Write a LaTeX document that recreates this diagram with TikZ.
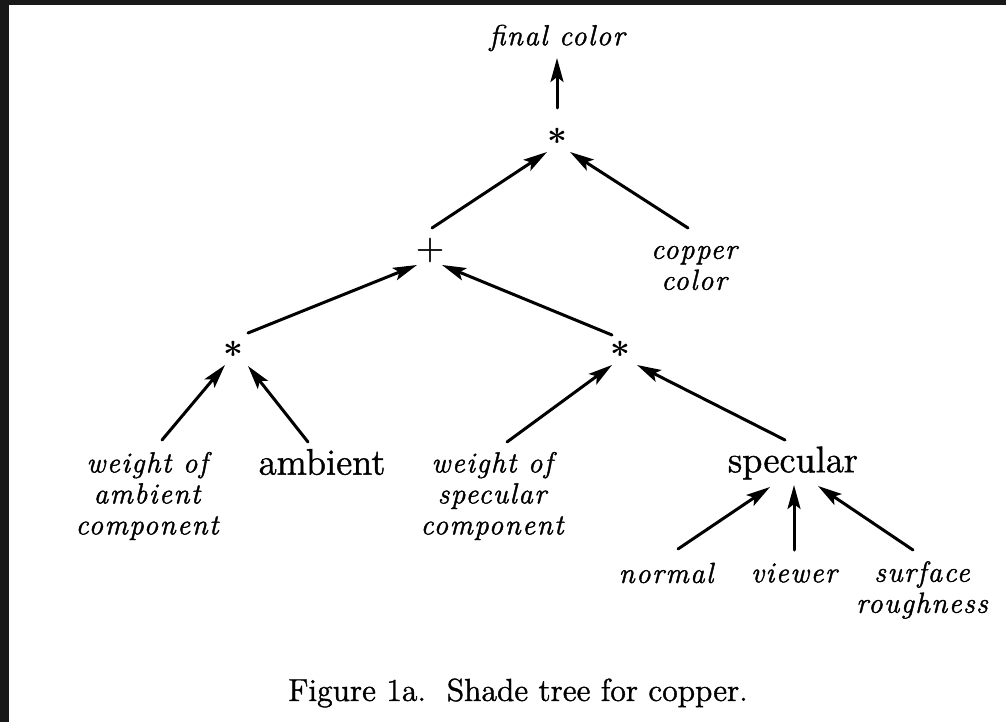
\documentclass[tikz,border=0pt]{standalone}
\usepackage{amsmath}
\usepackage{fontspec}
\usetikzlibrary{arrows.meta}

% spaced-out, slightly heavy italic for the leaf labels
\newfontfamily\lblfam{lmroman12-italic}[Extension=.otf, LetterSpace=5, FakeBold=1.4]
% heavy roman for the terms and the caption
\newfontfamily\romfam{lmroman12-regular}[Extension=.otf, FakeBold=1.2]

\newcommand{\lblfont}{\lblfam\fontsize{14.5}{15.5}\selectfont}
\newcommand{\opfont}{\romfam\fontsize{18.5}{22}\selectfont}
\newcommand{\capfont}{\romfam\fontsize{15.9}{19}\selectfont}
\newcommand{\starfont}{\fontsize{16}{16}\selectfont}

\definecolor{framedark}{HTML}{191919}

\begin{document}
\begin{tikzpicture}[
  x=0.5pt, y=-0.5pt,
  leaf/.style={inner sep=0pt, align=center, font=\lblfont},
  term/.style={inner sep=0pt, font=\opfont},
  oper/.style={inner sep=0pt, font=\starfont},
  edge/.style={line width=1.5pt, line cap=round,
    -{Stealth[length=12pt, width=6.5pt, inset=2.5pt]}},
]
\useasboundingbox (0,0) rectangle (1006,722);
% page background with the dark border strips on the left and top
\fill[framedark] (0,0) rectangle (1006,722);
\fill[white] (9,5) rectangle (1006,722);

% operators
\node[oper] (ts) at (557,136) {$\boldsymbol{\ast}$};
\node[term] (pl) at (430,250) {+};
\node[oper] (ls) at (233,349) {$\boldsymbol{\ast}$};
\node[oper] (rs) at (620,349) {$\boldsymbol{\ast}$};

% labels
\node[leaf] (fc) at (557,38) {final color};
\node[leaf] (cc) at (694,268) {copper\\color};
\node[leaf] (wa) at (147,496) {weight of\\ambient\\component};
\node[term] (am) at (322,462) {ambient};
\node[leaf] (ws) at (492,496) {weight of\\specular\\component};
\node[term] (sp) at (793,463) {specular};
\node[leaf] (no) at (666,573) {normal};
\node[leaf] (vw) at (794,573) {viewer};
\node[leaf] (sr) at (922,590) {surface\\roughness};

% caption
\node[inner sep=0pt, font=\capfont] (cap) at (518,693)
  {Figure 1a.\ \ Shade tree for copper.};

% edges of the tree
\draw[edge] ([shift={(0,-28)}]ts.center) -- ([shift={(0,20)}]fc.center);
\draw[edge] ([shift={(2,-22)}]pl.center) -- ([shift={(-10,16)}]ts.center);
\draw[edge] ([shift={(-6,-40)}]cc.center) -- ([shift={(13,16)}]ts.center);
\draw[edge] ([shift={(15,-16)}]ls.center) -- ([shift={(-13,15)}]pl.center);
\draw[edge] ([shift={(-8,-14)}]rs.center) -- ([shift={(12,15)}]pl.center);
\draw[edge] ([shift={(15,-56)}]wa.center) -- ([shift={(-8,16)}]ls.center);
\draw[edge] ([shift={(-14,-20)}]am.center) -- ([shift={(15,17)}]ls.center);
\draw[edge] ([shift={(15,-54)}]ws.center) -- ([shift={(-8,16)}]rs.center);
\draw[edge] ([shift={(-8,-23)}]sp.center) -- ([shift={(17,16)}]rs.center);
\draw[edge] ([shift={(12,-24)}]no.center) -- ([shift={(-23,24)}]sp.center);
\draw[edge] ([shift={(0,-23)}]vw.center) -- ([shift={(1,22)}]sp.center);
\draw[edge] ([shift={(-9,-40)}]sr.center) -- ([shift={(25,23)}]sp.center);
\end{tikzpicture}
\end{document}
